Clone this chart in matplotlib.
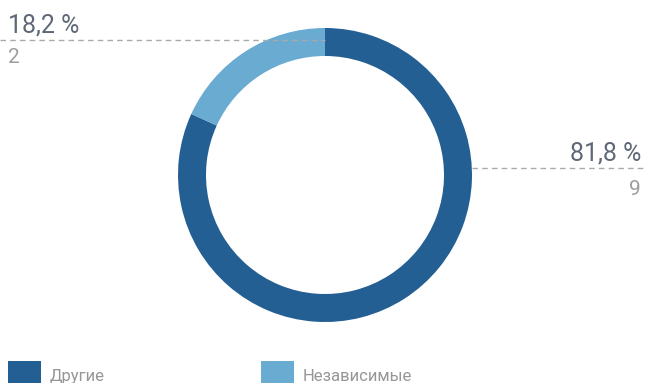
import matplotlib
matplotlib.use('Agg')
import matplotlib.pyplot as plt
from matplotlib.patches import Rectangle

# данные
categories = ['Другие', 'Независимые']
counts = [9, 2]
shares = ['81,8 %', '18,2 %']
colors = ['#245f93', '#6aabd2']

W, H = 646, 383
plt.rcParams['font.family'] = ['Roboto', 'DejaVu Sans']

fig = plt.figure(figsize=(W / 100, H / 100), dpi=100)
ax = fig.add_axes([0, 0, 1, 1])


def py(y):
    # пиксели сверху -> координаты данных
    return H - y


cx, cy, r = 325, 175, 147
ax.pie(counts, colors=colors, startangle=90, counterclock=False,
       center=(cx, py(cy)), radius=r, frame=True,
       wedgeprops=dict(width=28, linewidth=0))
ax.set_xlim(0, W)
ax.set_ylim(0, H)
ax.set_aspect('auto')
ax.axis('off')

pct_color = '#5f6876'
cnt_color = '#9e9e9e'
dash = dict(color='#aaaaaa', lw=1, linestyle=(0, (4, 3)))

# правая подпись (Другие)
ax.plot([472, W], [py(168), py(168)], **dash)
ax.text(641, py(161), shares[0], ha='right', va='baseline', fontsize=18, color=pct_color)
ax.text(641, py(195), str(counts[0]), ha='right', va='baseline', fontsize=15, color=cnt_color)

# левая подпись (Независимые)
ax.plot([0, cx], [py(40), py(40)], **dash)
ax.text(8, py(33), shares[1], ha='left', va='baseline', fontsize=18, color=pct_color)
ax.text(8, py(63), str(counts[1]), ha='left', va='baseline', fontsize=15, color=cnt_color)

# легенда
for x0, name, c in [(8, categories[0], colors[0]), (261, categories[1], colors[1])]:
    ax.add_patch(Rectangle((x0, py(383)), 33, 22, color=c, lw=0))
    ax.text(x0 + 42, py(381), name, ha='left', va='baseline', fontsize=12, color='#969696')

fig.savefig('out.png', dpi=100)
